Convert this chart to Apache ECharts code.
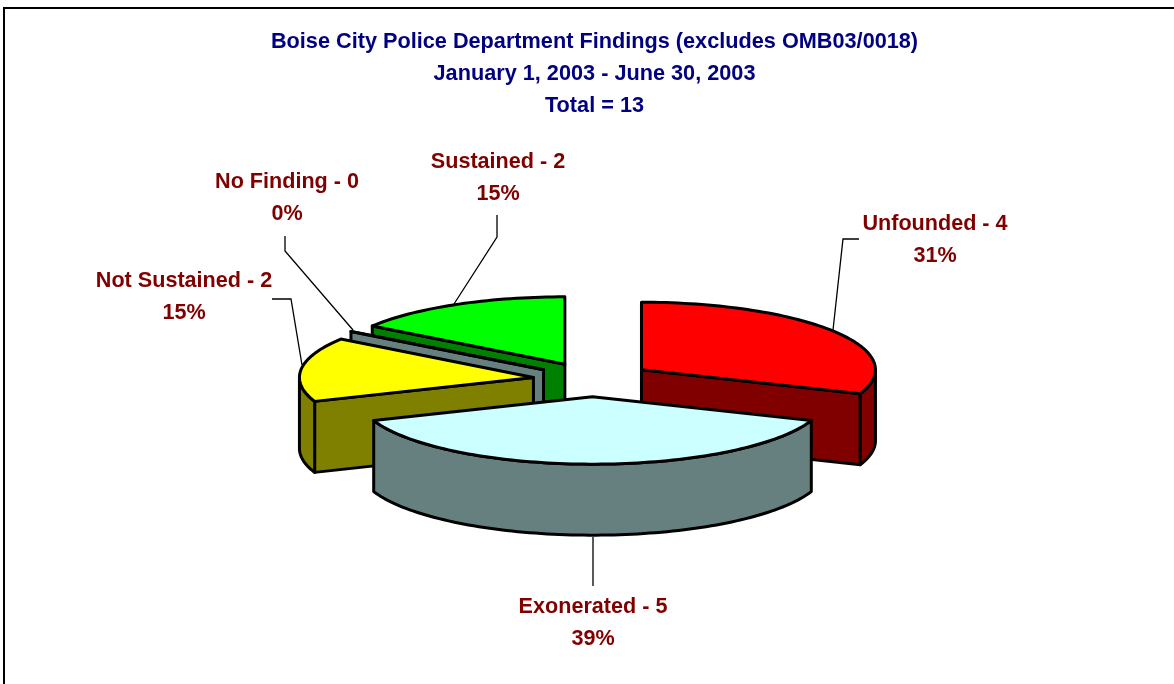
<!DOCTYPE html>
<html><head><meta charset="utf-8">
<style>html,body{margin:0;padding:0;background:#fff}#c{width:1174px;height:684px}</style>
<script src="https://cdn.jsdelivr.net/npm/echarts@6/dist/echarts.min.js"></script>
</head><body><div id="c"></div>
<script>
var titleLines = ['Boise City Police Department Findings (excludes OMB03/0018)', 'January 1, 2003 - June 30, 2003', 'Total = 13'];
var categories = ['Unfounded', 'Exonerated', 'Not Sustained', 'No Finding', 'Sustained'];
var values = [4, 5, 2, 0, 2];
var percentLabels = ['31%', '39%', '15%', '0%', '15%'];
var topColors = ['#FF0000', '#CCFFFF', '#FFFF00', '#668080', '#00FF00'];
var sideColors = ['#800000', '#668080', '#808000', '#668080', '#008000'];
var drawOrder = [4, 3, 0, 2, 1];
var labelCenters = [[935, 224], [593, 607], [184, 281], [287, 182], [498, 162]];
var leaderPaths = [
  [[859, 239], [843, 239], [833, 330]],
  [[593, 537], [593, 586]],
  [[272, 299], [291, 299], [302, 365]],
  [[285, 236], [285, 251], [353, 330]],
  [[497, 215], [497, 237], [454, 304]]
];
var CX = 592.5, CY = 379.5, RX = 234, RY = 67.5, DEPTH = 71, EXPLODE = 59.5;
var TEXT_FONT = '"Liberation Sans", Arial, sans-serif';

var total = values.reduce(function (a, b) { return a + b; }, 0);
var starts = [], acc = 0;
values.forEach(function (v) { starts.push(acc / total * 360); acc += v; });

function pt(c, a) {
  var r = a * Math.PI / 180;
  return [c[0] + RX * Math.sin(r), c[1] - RY * Math.cos(r)];
}
function arc(c, a, b) {
  var n = Math.max(1, Math.ceil(Math.abs(b - a) / 1.5)), out = [];
  for (var i = 0; i <= n; i++) out.push(pt(c, a + (b - a) * i / n));
  return out;
}
function down(p) { return [p[0], p[1] + DEPTH]; }
function poly(points, fill) {
  return { type: 'polygon', shape: { points: points },
    style: { fill: fill, stroke: '#000', lineWidth: 3, lineJoin: 'round' } };
}
function renderItem(params, api) {
  var i = api.value(0), a = starts[i], b = a + values[i] / total * 360, mid = (a + b) / 2;
  var c = [CX + EXPLODE * Math.sin(mid * Math.PI / 180), CY - EXPLODE * RY / RX * Math.cos(mid * Math.PI / 180)];
  var kids = [], side = sideColors[i];
  [[a, a - 90], [b, b + 90]].forEach(function (f) {
    if (Math.cos(f[1] * Math.PI / 180) < -1e-6) {
      var e = pt(c, f[0]);
      kids.push(poly([c, e, down(e), down(c)], side));
    }
  });
  var fa = Math.max(a, 90), fb = Math.min(b, 270);
  if (fb > fa) {
    var front = arc(c, fa, fb);
    kids.push(poly(front.concat(front.slice().reverse().map(down)), side));
  }
  kids.push(poly([c].concat(arc(c, a, b)), topColors[i]));
  return { type: 'group', children: kids };
}
function labelItem(params, api) {
  var i = api.value(0), p = labelCenters[i], s = { font: 'bold 21.6px ' + TEXT_FONT, fill: '#800000', align: 'center', verticalAlign: 'middle' };
  return { type: 'group', children: [
    { type: 'text', x: p[0], y: p[1], style: Object.assign({ text: categories[i] + ' - ' + values[i] }, s) },
    { type: 'text', x: p[0], y: p[1] + 32.5, style: Object.assign({ text: percentLabels[i] }, s) }
  ] };
}
var chart = echarts.init(document.getElementById('c'));
chart.setOption({
  animation: false,
  backgroundColor: '#fff',
  title: {
    text: titleLines.join('\n'), left: 594.5, top: 26.5, padding: 0, textAlign: 'center',
    textStyle: { color: '#000080', fontFamily: TEXT_FONT, fontWeight: 'bold', fontSize: 21.7, lineHeight: 32 }
  },
  graphic: [{ type: 'rect', silent: true, z: -1, shape: { x: 4, y: 8, width: 1200, height: 700 }, style: { fill: '#fff', stroke: '#000', lineWidth: 2 } }]
    .concat(leaderPaths.map(function (p) {
      return { type: 'polyline', silent: true, z: 0, shape: { points: p }, style: { stroke: '#000', lineWidth: 1.3, fill: null } };
    })),
  series: [
    { type: 'custom', coordinateSystem: 'none', silent: true, z: 3, renderItem: renderItem, data: drawOrder.map(function (i) { return [i]; }) },
    { type: 'custom', coordinateSystem: 'none', silent: true, z: 4, renderItem: labelItem, data: categories.map(function (n, i) { return [i]; }) }
  ]
});
</script></body></html>
